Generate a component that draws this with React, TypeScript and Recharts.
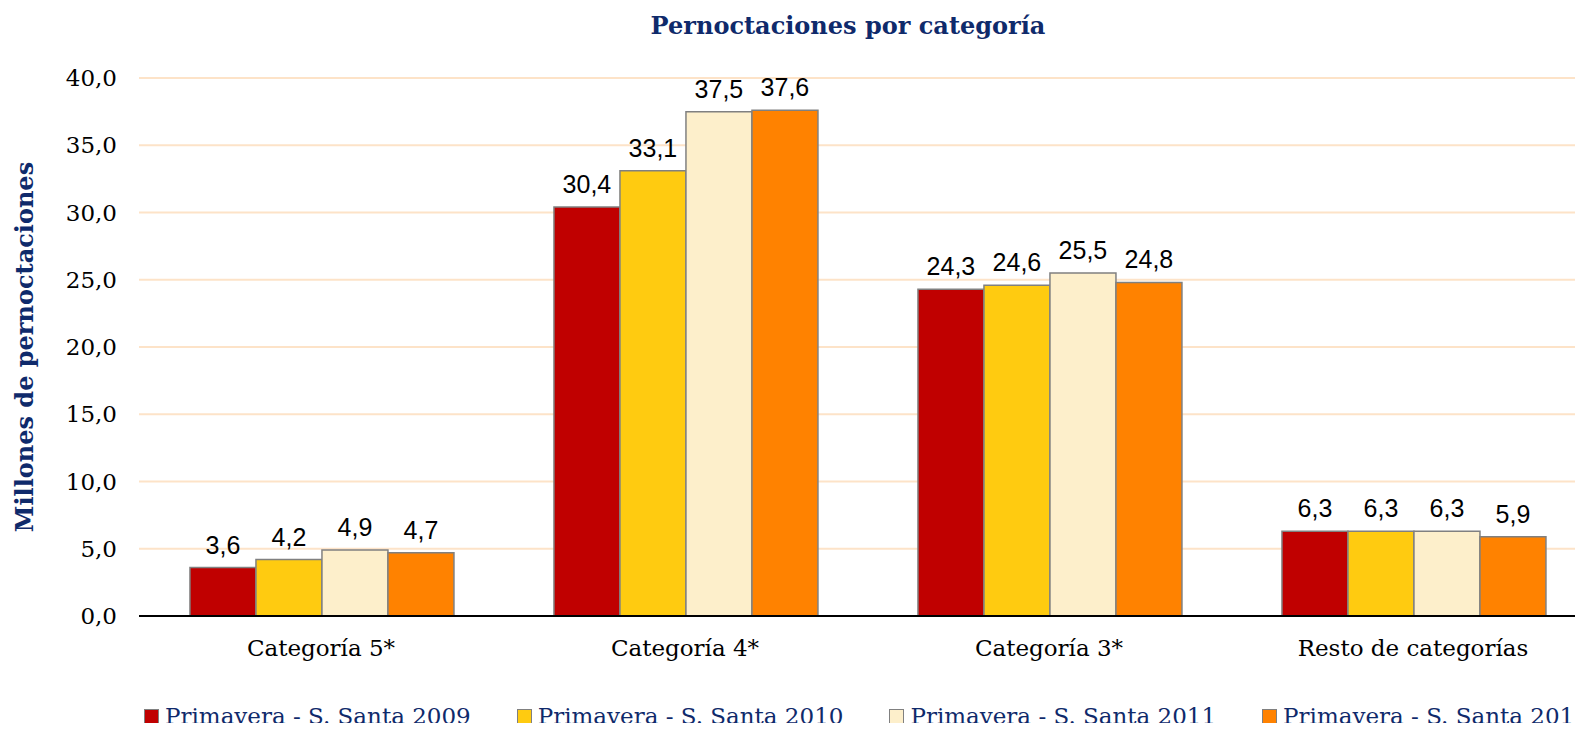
import { BarChart, Bar, XAxis, YAxis, CartesianGrid, Legend, LabelList } from 'recharts';

/* Pernoctaciones por categoría: primavera / Semana Santa 2009-2012 */

const categories = ['Categoría 5*', 'Categoría 4*', 'Categoría 3*', 'Resto de categorías'];
const serie2009 = [3.6, 30.4, 24.3, 6.3];
const serie2010 = [4.2, 33.1, 24.6, 6.3];
const serie2011 = [4.9, 37.5, 25.5, 6.3];
const serie2012 = [4.7, 37.6, 24.8, 5.9];
const seriesNames = [
    'Primavera - S. Santa 2009',
    'Primavera - S. Santa 2010',
    'Primavera - S. Santa 2011',
    'Primavera - S. Santa 2012',
];
const seriesColors = ['#C00000', '#FFCB10', '#FDEFCB', '#FF8200'];
const yTicks = [0, 5, 10, 15, 20, 25, 30, 35, 40];
const edgeTicks = [0, 1, 2, 3, 4];

const NAVY = '#0F2A6B';
const SERIF = '"DejaVu Serif", Georgia, serif';

// one row per category, keyed by series name
const data = categories.map((name, i) => ({
    name,
    idx: i + 0.5,
    [seriesNames[0]]: serie2009[i],
    [seriesNames[1]]: serie2010[i],
    [seriesNames[2]]: serie2011[i],
    [seriesNames[3]]: serie2012[i],
}));

const fmt = (v: number) => v.toFixed(1).replace('.', ',');

function LegendRow() {
    return (
        <div style={{ display: 'flex', gap: 46, fontFamily: SERIF, fontSize: 23, color: NAVY, whiteSpace: 'nowrap' }}>
            {seriesNames.map((s, i) => (
                <div key={s} style={{ display: 'flex', alignItems: 'center' }}>
                    <span style={{
                        display: 'inline-block', width: 13, height: 13, background: seriesColors[i],
                        border: '1.5px solid #808080', marginRight: 6
                    }} />
                    <span>{s}</span>
                </div>
            ))}
        </div>
    );
}

function YLabel(props: any) {
    const vb = props.viewBox || {};
    const cx = 16;
    const cy = vb.y + vb.height / 2;
    return (
        <text x={cx} y={cy} transform={`rotate(-90, ${cx}, ${cy})`} textAnchor="middle" dominantBaseline="central"
            fill={NAVY} fontFamily={SERIF} fontWeight="bold" fontSize={24}>
            Millones de pernoctaciones
        </text>
    );
}

export default function App() {
    return (
        <div style={{ position: 'relative', width: 1575, height: 723, overflow: 'hidden', marginBottom: -8 }}>
            <div style={{
                position: 'absolute', top: 3, left: 0, width: 1680, textAlign: 'center',
                fontFamily: SERIF, fontWeight: 'bold', fontSize: 24, color: NAVY, zIndex: 2
            }}>
                Pernoctaciones por categoría
            </div>
            <BarChart width={1600} height={723} data={data}
                margin={{ top: 70, right: 13, left: 0, bottom: 75 }}
                barCategoryGap="14%" barGap={0}>
                <CartesianGrid vertical={false} stroke="#FDE3C8" strokeWidth={2} />
                <XAxis xAxisId="b_cat" dataKey="name" height={38} axisLine={false} tickLine={false}
                    tickMargin={22} tickSize={0}
                    tick={{ fill: '#000', fontFamily: SERIF, fontSize: 23 }} />
                <XAxis xAxisId="a_edge" dataKey="idx" type="number" domain={[0, 4]} ticks={edgeTicks}
                    height={2} tick={false} tickSize={8} tickLine={{ stroke: '#000', strokeWidth: 2 }}
                    axisLine={{ stroke: '#000', strokeWidth: 2 }} />
                <YAxis width={131} domain={[0, 40]} ticks={yTicks} axisLine={false} tickLine={false}
                    tickSize={0} tickMargin={22} tickFormatter={fmt} interval={0}
                    tick={{ fill: '#000', fontFamily: SERIF, fontSize: 23 }}
                    label={{ content: YLabel }} />
                {seriesNames.map((s, i) => (
                    <Bar key={s} xAxisId="b_cat" dataKey={s} fill={seriesColors[i]} stroke="#808080" strokeWidth={1.5}
                        isAnimationActive={false}>
                        <LabelList dataKey={s} position="top" offset={14} formatter={(v: any) => fmt(Number(v))}
                            style={{ fill: '#000', fontFamily: '"Liberation Sans", Arial, sans-serif', fontSize: 25 }} />
                    </Bar>
                ))}
                <Legend verticalAlign="middle" align="center" layout="horizontal"
                    wrapperStyle={{ top: 695, left: 136, width: 1600 }}
                    content={() => <LegendRow />} />
            </BarChart>
        </div>
    );
}
